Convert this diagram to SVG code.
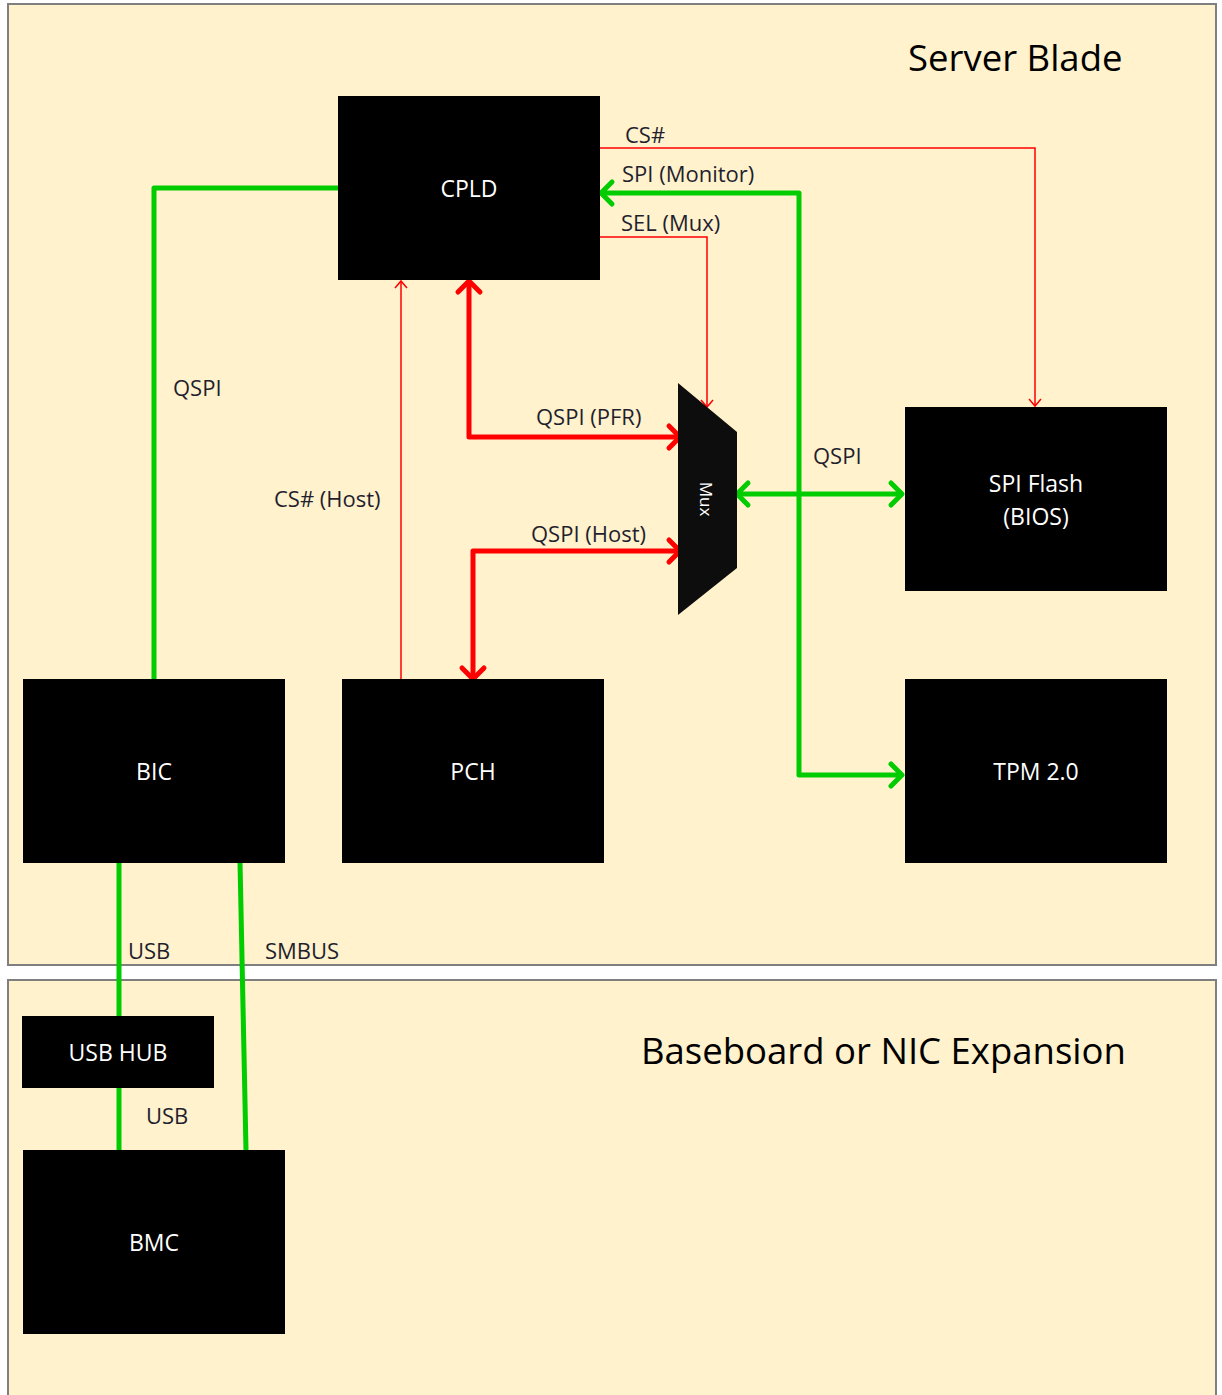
<svg xmlns="http://www.w3.org/2000/svg" width="1222" height="1395" viewBox="0 0 1222 1395">
<style>
.panel{fill:#FFF2CC;stroke:#7f7f7f;stroke-width:2}
.box{fill:#000}
.nt{font-family:"Open Sans","Liberation Sans",sans-serif;font-size:23px;fill:#fff;text-anchor:middle;dominant-baseline:central}
.lbl{font-family:"Open Sans","Liberation Sans",sans-serif;font-size:22px;fill:#1f1f2e}
.title{font-family:"Open Sans","Liberation Sans",sans-serif;font-size:36.5px;fill:#000}
.g{fill:none;stroke:#00CC00;stroke-width:5;stroke-linejoin:round}
.rk{fill:none;stroke:#FF0000;stroke-width:5;stroke-linejoin:round}
.rt{fill:none;stroke:#FF0000;stroke-width:1.5}
</style>
<defs>
<marker id="ag" markerUnits="userSpaceOnUse" viewBox="0 0 16 26" markerWidth="16" markerHeight="26" refX="13" refY="13" orient="auto-start-reverse" overflow="visible">
<path d="M2,2 L13,13 L2,24" fill="none" stroke="#00CC00" stroke-width="5" stroke-linecap="round" stroke-linejoin="round"/>
</marker>
<marker id="ar" markerUnits="userSpaceOnUse" viewBox="0 0 16 26" markerWidth="16" markerHeight="26" refX="13" refY="13" orient="auto-start-reverse" overflow="visible">
<path d="M2,2 L13,13 L2,24" fill="none" stroke="#FF0000" stroke-width="5" stroke-linecap="round" stroke-linejoin="round"/>
</marker>
<marker id="at" markerUnits="userSpaceOnUse" viewBox="0 0 10 14" markerWidth="10" markerHeight="14" refX="8" refY="7" orient="auto" overflow="visible">
<path d="M1,1 L8,7 L1,13" fill="none" stroke="#FF0000" stroke-width="1.5"/>
</marker>
</defs>
<rect width="1222" height="1395" fill="#fff"/>
<g id="server-blade">
<rect class="panel" x="8" y="4" width="1208" height="961"/>
<text class="title" x="908" y="71">Server Blade</text>
</g>
<g id="baseboard">
<rect class="panel" x="8" y="980" width="1208" height="430"/>
<text class="title" x="641" y="1064">Baseboard or NIC Expansion</text>
</g>
<g id="connectors">
<polyline class="g" points="154,679 154,188 341,188"/>
<polyline class="rt" points="600,148 1035,148 1035,406" marker-end="url(#at)"/>
<polyline class="g" points="902,775 799,775 799,193 601,193" marker-start="url(#ag)" marker-end="url(#ag)"/>
<polyline class="rt" points="600,237 707,237 707,407" marker-end="url(#at)"/>
<polyline class="rk" points="469,281 469,437 680,437" marker-start="url(#ar)" marker-end="url(#ar)"/>
<polyline class="rk" points="680,551 473,551 473,679" marker-start="url(#ar)" marker-end="url(#ar)"/>
<polyline class="rt" points="401,679 401,281" marker-end="url(#at)"/>
<polyline class="g" points="737,494 902,494" marker-start="url(#ag)" marker-end="url(#ag)"/>
<line class="g" x1="119" y1="862" x2="119" y2="1016"/>
<line class="g" x1="240" y1="862" x2="246" y2="1150"/>
<line class="g" x1="119" y1="1088" x2="119" y2="1150"/>
<text class="lbl" x="625" y="143">CS#</text>
<text class="lbl" x="622" y="182">SPI (Monitor)</text>
<text class="lbl" x="621" y="231">SEL (Mux)</text>
<text class="lbl" x="173" y="396">QSPI</text>
<text class="lbl" x="274" y="507">CS# (Host)</text>
<text class="lbl" x="536" y="425">QSPI (PFR)</text>
<text class="lbl" x="531" y="542">QSPI (Host)</text>
<text class="lbl" x="813" y="464">QSPI</text>
<text class="lbl" x="128" y="959">USB</text>
<text class="lbl" x="265" y="959">SMBUS</text>
<text class="lbl" x="146" y="1124">USB</text>
</g>
<g id="cpld"><rect class="box" x="338" y="96" width="262" height="184"/><text class="nt" x="469" y="188">CPLD</text></g>
<g id="mux"><polygon points="678,383 737,432 737,568 678,615" fill="#0d0d0d"/><text class="nt" x="706" y="499" transform="rotate(90 706 499)" style="font-size:17px">Mux</text></g>
<g id="spi-flash"><rect class="box" x="905" y="407" width="262" height="184"/><text class="nt" x="1036" y="483">SPI Flash</text><text class="nt" x="1036" y="516">(BIOS)</text></g>
<g id="bic"><rect class="box" x="23" y="679" width="262" height="184"/><text class="nt" x="154" y="771">BIC</text></g>
<g id="pch"><rect class="box" x="342" y="679" width="262" height="184"/><text class="nt" x="473" y="771">PCH</text></g>
<g id="tpm"><rect class="box" x="905" y="679" width="262" height="184"/><text class="nt" x="1036" y="771">TPM 2.0</text></g>
<g id="usb-hub"><rect class="box" x="22" y="1016" width="192" height="72"/><text class="nt" x="118" y="1052">USB HUB</text></g>
<g id="bmc"><rect class="box" x="23" y="1150" width="262" height="184"/><text class="nt" x="154" y="1242">BMC</text></g>
</svg>
